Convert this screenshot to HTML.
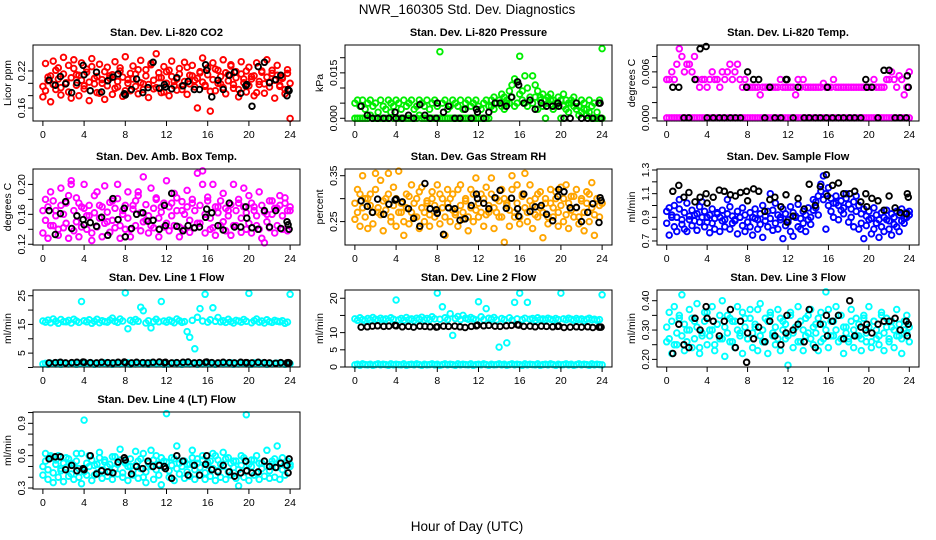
<!DOCTYPE html>
<html><head><meta charset="utf-8"><style>
body{margin:0;background:#fff}
svg{display:block}
text{font-family:"Liberation Sans",sans-serif}
</style></head><body>
<svg id="chart" width="936" height="540" viewBox="0 0 936 540">
<text x="467" y="14" font-size="13.5" text-anchor="middle">NWR_160305  Std. Dev. Diagnostics</text>
<text x="467" y="531" font-size="13.5" text-anchor="middle">Hour of Day (UTC)</text>
</svg>
<script>
const hours=[0,.25,.5,.75,1,1.25,1.5,1.75,2,2.25,2.5,2.75,3,3.25,3.5,3.75,4,4.25,4.5,4.75,5,5.25,5.5,5.75,6,6.25,6.5,6.75,7,7.25,7.5,7.75,8,8.25,8.5,8.75,9,9.25,9.5,9.75,10,10.25,10.5,10.75,11,11.25,11.5,11.75,12,12.25,12.5,12.75,13,13.25,13.5,13.75,14,14.25,14.5,14.75,15,15.25,15.5,15.75,16,16.25,16.5,16.75,17,17.25,17.5,17.75,18,18.25,18.5,18.75,19,19.25,19.5,19.75,20,20.25,20.5,20.75,21,21.25,21.5,21.75,22,22.25,22.5,22.75,23,23.25,23.5,23.75,24];
const blackHours=[0.6,1.2,1.7,2.2,2.8,3.3,3.9,4.0,4.6,5.2,5.7,6.3,6.8,7.3,7.9,8.0,8.6,9.1,9.7,10.2,10.7,11.3,11.8,11.9,12.5,13.0,13.6,14.1,14.7,15.2,15.8,15.9,16.4,17.0,17.5,18.1,18.6,19.2,19.7,19.8,20.3,20.9,21.5,22.0,22.6,23.1,23.7,23.8,23.9];
const xTicks=[0,4,8,12,16,20,24];

const co2A=[.195,.188,.204,.212,.198,.221,.207,.193,.215,.201,.186,.209,.224,.197,.213,.205,.191,.218,.202,.227,.199,.211,.184,.206,.219,.196,.208,.214,.192,.203,.225,.21,.188,.2,.216,.207,.195,.222,.201,.19,.212,.198,.23,.205,.193,.217,.209,.186,.2,.221,.211,.196,.207,.215,.19,.203,.226,.199,.212,.194,.208,.219,.202,.197,.214,.187,.206,.223,.2,.211,.193,.217,.204,.228,.198,.209,.19,.215,.201,.22,.196,.207,.212,.185,.203,.218,.199,.21,.194,.221,.205,.213,.197,.208,.19,.216,.2];
const co2B=[.178,.232,.21,.17,.236,.19,.225,.181,.242,.2,.229,.176,.238,.214,.18,.233,.196,.223,.172,.24,.208,.185,.231,.2,.174,.226,.212,.182,.235,.194,.22,.179,.243,.206,.188,.228,.215,.183,.237,.199,.222,.177,.232,.191,.248,.209,.185,.227,.219,.18,.236,.203,.189,.224,.196,.234,.182,.213,.229,.205,.16,.217,.241,.195,.225,.155,.233,.188,.221,.199,.238,.183,.214,.23,.192,.219,.178,.235,.207,.186,.226,.211,.18,.233,.198,.22,.184,.238,.202,.216,.176,.229,.195,.21,.183,.222,.143];
const co2K=[.205,.197,.211,.199,.185,.201,.229,.214,.188,.218,.186,.204,.21,.215,.183,.181,.19,.207,.185,.193,.234,.192,.198,.194,.191,.209,.196,.203,.19,.19,.23,.221,.178,.205,.19,.213,.218,.184,.196,.198,.163,.227,.234,.201,.206,.213,.18,.19,.188];

const presA=[.005,.006,.004,.006,.003,.005,.006,.004,.005,.002,.006,.004,.003,.006,.005,.004,.006,.005,.003,.006,.004,.005,.006,.003,.004,.006,.005,.004,.006,.003,.005,.006,.004,.022,.005,.006,.003,.004,.006,.005,.004,.006,.003,.005,.006,.004,.005,.006,.004,.003,.005,.006,.004,.006,.007,.005,.006,.008,.007,.005,.009,.011,.013,.012,.0205,.009,.014,.01,.007,.014,.011,.009,.007,.008,.006,.007,.008,.006,.005,.007,.006,.008,.006,.005,.006,.007,.005,.004,.006,.005,.003,.006,.004,.005,.002,.006,.023];
const presB=[0,0,0,0,0,0,.001,0,0,0,0,0,0,0,.002,0,0,0,0,0,0,0,0,0,0,.001,0,0,0,0,0,0,0,0,0,0,0,0,0,0,0,0,0,0,0,0,0,0,0,0,0,0,0,.004,.003,.005,.006,.004,.003,.006,.005,.007,.004,.005,.008,.006,.005,.004,.006,.005,.007,.003,.006,.004,0,.005,.006,.003,.004,.005,0,.004,.003,.002,.005,.004,.003,.001,.002,.003,.001,.002,0,0,0,0,0];
const presK=[.004,.001,0,0,0,0,.002,0,0,.001,0,.0045,.001,0,0,.005,.002,.004,0,0,.003,0,.003,.002,0,.002,.005,.005,.004,.007,.012,.011,.005,.006,.003,.005,.004,.004,.005,.004,0,0,.005,0,0,0,.005,.005,0];

const tempA=[0,0,0,0,0,0,0,0,0,0,0,0,0,0,0,0,0,0,0,0,0,0,0,0,0,0,0,0,0,0,0,0,0,0,0,0,0,0,0,0,0,0,0,0,0,0,0,0,0,0,0,0,0,0,0,0,0,0,0,0,0,0,0,0,0,0,0,0,0,0,0,0,0,0,0,0,0,0,0,0,0,0,0,0,0,0,0,0,0,0,0,0,0,0,0,0,0];
const tempB=[.005,.005,.006,.005,.007,.009,.008,.006,.007,.007,.006,.008,.005,.004,.005,.005,.004,.005,.006,.005,.005,.004,.006,.005,.006,.007,.005,.006,.007,.005,.004,.005,.004,.004,.004,.004,.004,.003,.004,.004,.004,.004,.004,.004,.004,.005,.004,.004,.004,.004,.004,.003,.005,.004,.005,.004,.004,.004,.004,.004,.004,.004,.0045,.004,.004,.004,.005,.004,.004,.004,.004,.004,.004,.004,.004,.004,.004,.004,.004,.004,.004,.004,.005,.004,.004,.004,.004,.005,.005,.006,.005,.004,.0055,.005,.003,.004,.006];
const tempK=[.004,.004,0,0,.005,.009,.0093,0,0,0,0,0,0,0,.004,.006,.005,.005,0,.004,0,0,.005,.005,0,.004,0,0,0,0,0,.004,0,0,0,0,0,0,.005,.004,.004,0,.0062,.0062,0,0,0,.0055,.004];

const ambA=[.165,.152,.17,.145,.178,.158,.14,.172,.16,.148,.185,.2,.165,.15,.175,.143,.168,.158,.172,.135,.162,.19,.155,.17,.148,.163,.176,.152,.168,.181,.145,.16,.172,.155,.14,.167,.178,.19,.162,.15,.173,.158,.145,.168,.182,.155,.163,.175,.148,.17,.158,.188,.165,.143,.177,.16,.17,.152,.18,.165,.148,.172,.2,.16,.183,.155,.142,.17,.162,.178,.15,.168,.158,.173,.145,.165,.18,.155,.17,.162,.148,.175,.165,.158,.14,.172,.163,.15,.178,.16,.168,.145,.172,.158,.182,.165,.17];
const ambB=[.135,.18,.128,.19,.145,.165,.132,.195,.142,.175,.128,.205,.138,.182,.13,.17,.2,.14,.158,.125,.185,.143,.172,.13,.198,.15,.136,.178,.142,.2,.128,.165,.14,.19,.13,.172,.145,.185,.138,.21,.152,.135,.195,.142,.18,.13,.17,.143,.205,.138,.175,.145,.182,.13,.165,.14,.192,.136,.175,.142,.215,.148,.218,.135,.178,.14,.2,.132,.17,.145,.188,.138,.165,.132,.2,.145,.175,.136,.195,.14,.185,.135,.17,.145,.19,.128,.122,.16,.142,.178,.135,.168,.185,.14,.175,.138,.165];
const ambK=[.165,.133,.161,.177,.141,.158,.153,.146,.149,.144,.156,.132,.181,.153,.168,.13,.141,.16,.162,.151,.152,.14,.172,.145,.188,.144,.138,.145,.142,.143,.156,.167,.162,.145,.139,.175,.143,.143,.17,.155,.142,.14,.165,.143,.165,.141,.15,.146,.14];

const rhA=[.29,.27,.31,.28,.26,.3,.285,.27,.32,.28,.265,.295,.275,.31,.26,.285,.3,.27,.29,.25,.28,.305,.27,.29,.26,.315,.28,.27,.295,.265,.3,.285,.27,.31,.28,.26,.29,.3,.275,.265,.32,.285,.27,.295,.26,.28,.31,.275,.29,.27,.3,.265,.285,.31,.28,.27,.295,.26,.3,.285,.275,.32,.27,.29,.26,.305,.28,.27,.295,.285,.265,.31,.28,.27,.3,.26,.29,.28,.315,.27,.285,.3,.265,.29,.275,.305,.28,.26,.295,.27,.29,.31,.28,.265,.3,.285,.29];
const rhB=[.255,.32,.24,.35,.3,.235,.31,.245,.355,.27,.34,.23,.3,.355,.25,.325,.24,.36,.27,.22,.31,.245,.33,.26,.3,.235,.325,.25,.29,.24,.315,.26,.33,.245,.3,.22,.32,.25,.31,.27,.24,.33,.255,.3,.23,.32,.25,.345,.26,.31,.24,.325,.27,.345,.235,.3,.26,.32,.205,.29,.24,.35,.26,.33,.245,.31,.355,.25,.33,.235,.3,.26,.315,.215,.29,.245,.32,.26,.3,.24,.325,.25,.33,.235,.305,.26,.32,.245,.3,.23,.315,.25,.335,.22,.3,.26,.29];
const rhK=[.295,.283,.27,.299,.266,.288,.297,.299,.293,.278,.257,.24,.333,.278,.276,.268,.222,.28,.278,.253,.256,.285,.31,.3,.29,.278,.302,.318,.279,.301,.278,.262,.31,.272,.282,.285,.266,.252,.305,.32,.315,.28,.281,.25,.27,.289,.248,.302,.296];

const sfA=[.95,.98,.92,1.0,.9,.97,.88,.94,1.02,.91,.96,.87,.93,.99,.9,.95,.86,.92,.97,.89,.94,.9,.96,.88,.93,.99,.91,.87,.95,.9,.98,.92,.86,.94,.9,.97,.88,.93,1.0,.91,.95,.89,.96,1.02,.92,.9,.97,.93,.88,.99,.94,.91,1.01,.89,.95,.92,.98,.9,1.05,1.03,1.08,1.12,1.05,1.1,1.15,1.06,1.02,1.08,1.0,1.04,.98,1.06,1.01,.97,1.03,.95,1.0,.93,.97,.91,.95,.89,.98,.92,.88,.94,.9,.96,.87,.93,.9,.95,.92,.97,.89,.94,.95];
const sfB=[.85,.75,.9,.82,.78,1.05,.84,.8,.78,.88,.83,.92,.79,.86,1.03,.82,.9,.77,.85,.8,.93,.78,.87,.82,1.05,.8,.85,.88,.76,.9,.83,.78,.86,.82,.75,.89,.8,.84,.73,.87,.82,1.1,.79,.85,.8,.88,.72,.83,.86,.78,.74,.9,.82,.8,.85,.78,.88,.84,.96,.98,.92,1.18,1.25,.8,1.0,.95,.9,1.02,.88,.96,.93,1.1,.86,.9,.82,1.08,.8,.85,.72,.83,.88,.76,.8,.85,.73,.82,.78,.88,.8,.75,.84,.82,.78,.87,.85,.9,.92];
const sfK=[1.12,1.17,1.07,1.11,1.03,1.07,1.1,1.02,1.07,1.13,1.12,1.09,1.08,1.11,1.12,1.04,1.14,1.12,.95,1.05,1.07,.99,1.09,.86,.91,1.06,.97,1.18,1.0,1.16,1.26,1.08,1.17,1.19,1.1,1.1,1.12,1.03,1.1,.99,1.06,1.04,.96,1.08,.98,.94,.93,1.1,1.07];

const l1A=[16.2,15.8,16.5,15.6,16.9,16.1,15.4,16.7,16.0,15.9,16.4,15.5,16.8,16.2,15.7,23.0,16.3,15.9,16.6,15.4,16.1,16.8,15.6,16.3,16.0,15.8,16.5,17.2,16.1,15.7,16.9,16.2,26.0,13.5,16.4,15.9,16.7,16.1,21.0,19.8,15.5,16.3,13.8,16.0,16.8,15.9,23.0,16.2,15.8,16.5,16.1,15.6,16.9,16.3,15.7,16.0,12.5,10.5,16.4,6.5,17.5,20.5,16.2,25.5,15.8,16.6,20.8,16.1,17.4,15.9,16.3,15.7,16.8,16.0,15.5,16.4,16.2,15.8,16.7,16.1,25.8,15.6,16.3,16.9,15.8,16.2,15.5,16.6,16.0,15.7,16.4,16.1,15.9,16.3,15.4,15.8,25.5];
const l1B=[1.2,1.4,1.1,1.5,1.3,1.2,1.6,1.1,1.4,1.3,1.2,1.5,1.4,1.1,1.3,1.6,1.2,1.4,1.3,1.5,1.1,1.4,1.2,1.3,1.6,1.2,1.4,1.1,1.5,1.3,1.2,1.4,1.3,1.6,1.1,1.4,1.2,1.5,1.3,1.2,1.4,1.1,1.6,1.3,1.2,1.5,1.4,1.1,1.3,1.2,1.4,1.5,1.2,1.3,1.1,1.6,1.4,1.2,1.3,1.5,1.1,1.4,1.2,1.3,1.6,1.2,1.4,1.1,1.5,1.3,1.2,1.4,1.3,1.6,1.1,1.4,1.2,1.5,1.3,1.2,1.4,1.1,1.6,1.3,1.2,1.5,1.4,1.1,1.3,1.2,1.4,1.5,1.2,1.3,1.1,1.4,1.3];
const l1K=[1.6,1.7,1.8,1.6,1.7,1.8,1.9,1.8,1.7,1.6,1.8,1.7,1.6,1.8,1.9,1.7,1.6,1.8,1.7,1.6,1.8,1.9,1.7,1.8,1.6,1.7,1.8,1.9,1.6,1.7,1.8,1.9,1.7,1.6,1.8,1.7,1.6,1.8,1.7,1.7,1.6,1.8,1.7,1.6,1.5,1.7,1.6,1.7,1.6];

const l2A=[14.0,13.6,14.3,13.8,13.5,14.1,13.7,14.4,13.9,13.6,14.2,13.8,14.0,13.5,14.3,13.9,19.5,13.7,14.1,13.6,14.4,13.8,14.0,13.5,14.2,13.9,14.5,13.7,14.1,13.8,14.6,14.0,21.5,13.9,17.5,14.3,13.8,15.5,9.2,14.1,14.7,13.8,15.0,14.2,13.9,14.4,14.0,13.7,19.0,14.6,13.8,17.0,14.2,13.9,14.4,13.7,5.8,14.1,13.8,7.0,14.3,13.6,18.8,14.0,21.5,13.8,14.2,18.8,13.9,14.1,13.6,14.3,13.8,14.0,13.7,14.2,13.9,13.6,14.1,13.8,21.5,14.0,13.7,14.2,13.9,13.6,14.1,13.8,14.0,13.5,13.9,14.2,13.7,13.9,13.6,13.8,21.0];
const l2B=[0.6,0.8,0.5,0.9,0.7,0.6,0.8,0.5,0.7,0.9,0.6,0.8,0.7,0.5,0.9,0.6,0.8,0.7,0.6,0.9,0.5,0.7,0.8,0.6,0.9,0.7,0.5,0.8,0.6,0.7,0.9,0.6,0.8,0.5,0.7,0.9,0.6,0.8,0.7,0.5,0.9,0.6,0.8,0.7,0.6,0.9,0.5,0.7,0.8,0.6,0.9,0.7,0.5,0.8,0.6,0.7,0.9,0.6,0.8,0.5,0.7,0.9,0.6,0.8,0.7,0.5,0.9,0.6,0.8,0.7,0.6,0.9,0.5,0.7,0.8,0.6,0.9,0.7,0.5,0.8,0.6,0.7,0.9,0.6,0.8,0.5,0.7,0.9,0.6,0.8,0.7,0.5,0.9,0.6,0.8,0.7,0.6];
const l2K=[11.6,11.7,11.9,12.0,11.8,11.9,12.1,12.0,11.7,11.8,11.6,11.9,11.8,11.7,11.6,11.7,11.9,11.8,11.9,11.7,11.5,11.8,12.0,12.2,12.0,12.1,11.9,11.8,12.0,12.1,12.3,12.2,11.8,11.9,11.7,11.9,11.8,11.7,11.8,11.9,11.5,11.6,11.7,11.6,11.7,11.5,11.6,11.6,11.6];

const l3A=[.31,.27,.33,.25,.29,.35,.28,.32,.26,.3,.34,.27,.31,.24,.29,.33,.36,.28,.3,.25,.32,.35,.27,.31,.29,.34,.26,.33,.3,.28,.36,.31,.27,.34,.29,.32,.37,.28,.3,.26,.33,.35,.29,.31,.27,.34,.3,.32,.28,.36,.29,.31,.26,.33,.3,.28,.35,.27,.31,.29,.34,.26,.32,.3,.37,.28,.33,.3,.35,.27,.31,.29,.26,.33,.3,.28,.32,.27,.34,.29,.31,.26,.33,.3,.28,.35,.29,.31,.27,.33,.3,.28,.32,.27,.3,.29,.31];
const l3B=[.26,.36,.22,.38,.25,.34,.42,.23,.3,.37,.24,.33,.39,.22,.28,.36,.25,.3,.38,.23,.32,.27,.4,.21,.35,.26,.33,.24,.38,.29,.22,.34,.27,.37,.24,.31,.23,.39,.26,.34,.22,.36,.28,.25,.37,.23,.33,.27,.18,.35,.24,.31,.38,.26,.23,.34,.29,.37,.25,.32,.23,.36,.27,.43,.24,.33,.28,.38,.26,.35,.22,.31,.27,.37,.24,.34,.28,.23,.35,.26,.38,.24,.33,.27,.25,.36,.23,.34,.26,.31,.24,.37,.28,.22,.33,.35,.26];
const l3K=[.22,.32,.25,.24,.34,.3,.38,.34,.33,.28,.33,.37,.24,.33,.19,.29,.27,.31,.26,.33,.28,.25,.29,.35,.3,.32,.26,.37,.24,.32,.35,.28,.33,.35,.27,.4,.28,.31,.3,.32,.29,.32,.33,.33,.34,.3,.33,.28,.32];

const l4A=[.5,.55,.47,.58,.44,.52,.6,.46,.53,.49,.57,.43,.51,.55,.48,.62,.45,.53,.5,.56,.42,.52,.58,.47,.54,.5,.45,.59,.48,.52,.56,.44,.53,.5,.57,.46,.51,.55,.48,.62,.45,.53,.5,.56,.47,.52,.58,.49,.54,.46,.51,.57,.48,.53,.5,.55,.45,.52,.58,.47,.53,.49,.56,.44,.51,.55,.48,.6,.46,.52,.5,.57,.45,.53,.49,.55,.47,.51,.58,.46,.52,.5,.56,.44,.53,.48,.55,.5,.46,.52,.57,.49,.54,.47,.51,.55,.5];
const l4B=[.42,.62,.38,.6,.35,.56,.4,.48,.36,.58,.41,.53,.38,.62,.4,.34,.93,.42,.6,.37,.51,.44,.63,.39,.56,.41,.52,.38,.59,.43,.66,.4,.55,.37,.5,.42,.64,.39,.57,.4,.35,.53,.65,.38,.6,.42,.33,.55,.99,.4,.58,.37,.69,.43,.55,.39,.52,.41,.65,.38,.57,.42,.6,.38,.54,.41,.62,.37,.56,.4,.63,.38,.58,.42,.55,.39,.32,.6,.4,.98,.37,.56,.42,.6,.38,.53,.41,.65,.39,.55,.4,.69,.38,.58,.42,.55,.52];
const l4K=[.57,.59,.59,.47,.51,.46,.48,.47,.6,.43,.46,.45,.44,.54,.58,.56,.43,.5,.48,.55,.5,.51,.5,.48,.39,.6,.55,.42,.51,.42,.52,.6,.47,.45,.51,.45,.41,.44,.55,.46,.44,.45,.55,.5,.49,.53,.51,.44,.57];

const panels=[
 {id:'co2',title:'Stan. Dev. Li-820 CO2',ylab:'Licor ppm',col:0,row:0,ylim:[.139,.262],ticks:[.16,.18,.2,.22],labels:['0.16',null,null,'0.22'],color:'#ff0000',ser:[co2A,co2B],blk:co2K},
 {id:'pressure',title:'Stan. Dev. Li-820 Pressure',ylab:'kPa',col:1,row:0,ylim:[-.0009,.0242],ticks:[0,.005,.01,.015,.02],labels:['0.000',null,null,'0.015',null],color:'#00ee00',ser:[presA,presB],blk:presK},
 {id:'temp',title:'Stan. Dev. Li-820 Temp.',ylab:'degrees C',col:2,row:0,ylim:[-.0004,.0095],ticks:[0,.002,.004,.006,.008],labels:['0.000',null,null,'0.006',null],color:'#ff00ff',ser:[tempA,tempB],blk:tempK},
 {id:'ambbox',title:'Stan. Dev. Amb. Box Temp.',ylab:'degrees C',col:0,row:1,ylim:[.119,.2206],ticks:[.12,.14,.16,.18,.2],labels:['0.12',null,'0.16',null,'0.20'],color:'#ff00ff',ser:[ambA,ambB],blk:ambK},
 {id:'rh',title:'Stan. Dev. Gas Stream RH',ylab:'percent',col:1,row:1,ylim:[.199,.3646],ticks:[.25,.3,.35],labels:['0.25',null,'0.35'],color:'#ffa500',ser:[rhA,rhB],blk:rhK},
 {id:'sampleflow',title:'Stan. Dev. Sample Flow',ylab:'ml/min',col:2,row:1,ylim:[.666,1.3085],ticks:[.7,.8,.9,1,1.1,1.2,1.3],labels:['0.7',null,'0.9',null,'1.1',null,'1.3'],color:'#0000ff',ser:[sfA,sfB],blk:sfK},
 {id:'line1',title:'Stan. Dev. Line 1 Flow',ylab:'ml/min',col:0,row:2,ylim:[.16,27],ticks:[0,5,10,15,20,25],labels:[null,'5',null,'15',null,'25'],color:'#00ffff',ser:[l1A,l1B],blk:l1K},
 {id:'line2',title:'Stan. Dev. Line 2 Flow',ylab:'ml/min',col:1,row:2,ylim:[0,22.4],ticks:[0,5,10,15,20],labels:['0','5','10',null,'20'],color:'#00ffff',ser:[l2A,l2B],blk:l2K},
 {id:'line3',title:'Stan. Dev. Line 3 Flow',ylab:'ml/min',col:2,row:2,ylim:[.174,.4365],ticks:[.2,.25,.3,.35,.4],labels:['0.20',null,'0.30',null,'0.40'],color:'#00ffff',ser:[l3A,l3B],blk:l3K},
 {id:'line4',title:'Stan. Dev. Line 4 (LT) Flow',ylab:'ml/min',col:0,row:3,ylim:[.291,1.005],ticks:[.3,.4,.5,.6,.7,.8,.9,1],labels:['0.3',null,null,'0.6',null,null,'0.9',null],color:'#00ffff',ser:[l4A,l4B],blk:l4K}
];
const colX=[33,345,657], colW=[267,267,262];
const rowY=[45,169,290,412], rowH=[76,76,77,77];
const NS='http://www.w3.org/2000/svg';
const svg=document.getElementById('chart');
function mk(tag,attrs,parent){const e=document.createElementNS(NS,tag);for(const k in attrs)e.setAttribute(k,attrs[k]);(parent||svg).appendChild(e);return e;}

panels.forEach(p=>{
  const x0=colX[p.col], w=colW[p.col], y0=rowY[p.row], h=rowH[p.row];
  const g=mk('g',{});
  
  
  const xs=v=>x0+(v+0.96)/25.92*w;
  const ys=v=>y0+h-(v-p.ylim[0])/(p.ylim[1]-p.ylim[0])*h;
  const t=mk('text',{x:x0+w/2,y:y0-9,'font-size':11,'font-weight':'bold','text-anchor':'middle'},g);
  t.textContent=p.title;
  
  
  const yl=mk('text',{x:0,y:0,'font-size':10.5,'text-anchor':'middle',transform:`translate(${x0-22},${y0+h/2}) rotate(-90)`},g);
  yl.textContent=p.ylab;
  
  
  const pts=mk('g',{fill:'none','stroke-width':1.9},g);
  
  
  p.ser.forEach(s=>{s.forEach((v,i)=>{if(hours[i]===undefined)return;
    const c=mk('circle',{cx:xs(hours[i]).toFixed(1),cy:ys(v).toFixed(1),r:2.8,stroke:p.color},pts);
    
    });});
  p.blk.forEach((v,i)=>{if(blackHours[i]===undefined)return;
    const c=mk('circle',{cx:xs(blackHours[i]).toFixed(1),cy:ys(v).toFixed(1),r:2.8,stroke:'#000'},pts);
    
    });
  const b=mk('rect',{x:x0,y:y0,width:w,height:h,fill:'none',stroke:'#000','stroke-width':1},g);
  
  
  const xa=mk('g',{},g);
  
  
  mk('line',{x1:xs(0),x2:xs(24),y1:y0+h,y2:y0+h,stroke:'#000'},xa);
  xTicks.forEach(v=>{
    mk('line',{x1:xs(v),x2:xs(v),y1:y0+h,y2:y0+h+5,stroke:'#000'},xa);
    const tx=mk('text',{x:xs(v),y:y0+h+17,'font-size':10.5,'text-anchor':'middle'},xa);
    tx.textContent=v;
    
    
  });
  const ya=mk('g',{},g);
  
  
  mk('line',{x1:x0,x2:x0,y1:ys(p.ticks[0]),y2:ys(p.ticks[p.ticks.length-1]),stroke:'#000'},ya);
  p.ticks.forEach((v,i)=>{
    mk('line',{x1:x0-5,x2:x0,y1:ys(v),y2:ys(v),stroke:'#000'},ya);
    if(p.labels[i]){
      const ty=mk('text',{x:0,y:0,'font-size':10.5,'text-anchor':'middle',transform:`translate(${x0-8},${ys(v)}) rotate(-90)`},ya);
      ty.textContent=p.labels[i];
      
      
    }
  });
});
</script>
</body></html>
